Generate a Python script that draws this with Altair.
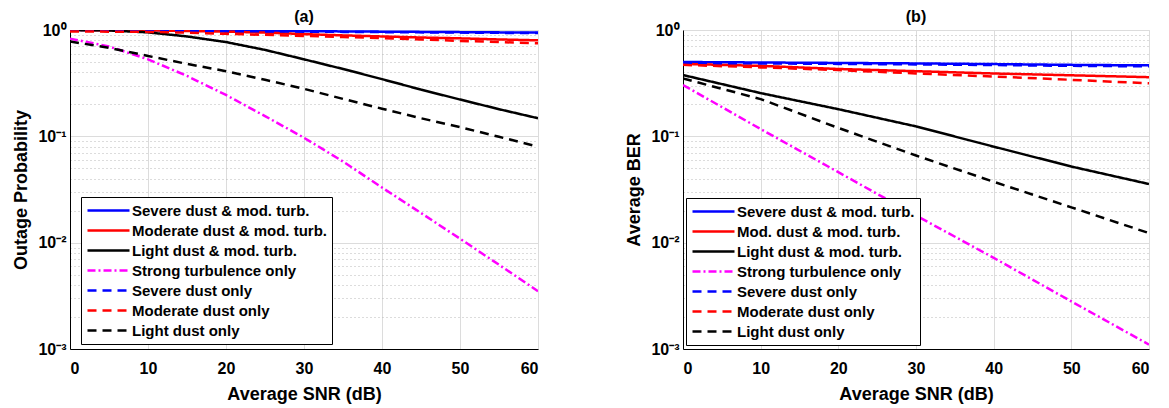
import altair as alt
import pandas as pd

# ---------------- data ----------------
snr_a = [0, 5, 10, 15, 20, 25, 30, 35, 40, 45, 50, 55, 60]
a_severe_mod = [1.0, 1.0, 0.995, 0.99, 0.985, 0.98, 0.975, 0.97, 0.965, 0.96, 0.955, 0.95, 0.945]
a_moderate_mod = [1.0, 0.995, 0.99, 0.98, 0.965, 0.945, 0.915, 0.89, 0.87, 0.85, 0.835, 0.815, 0.80]
a_light_mod = [1.0, 0.99, 0.95, 0.87, 0.77, 0.65, 0.53, 0.43, 0.345, 0.275, 0.222, 0.18, 0.148]
a_strong_turb = [0.83, 0.70, 0.53, 0.37, 0.245, 0.155, 0.097, 0.058, 0.033, 0.019, 0.0109, 0.0062, 0.0035]
a_severe_only = [0.99, 0.99, 0.985, 0.98, 0.975, 0.97, 0.965, 0.96, 0.955, 0.95, 0.945, 0.94, 0.935]
a_moderate_only = [0.97, 0.965, 0.96, 0.945, 0.92, 0.90, 0.88, 0.86, 0.84, 0.815, 0.79, 0.77, 0.75]
a_light_only = [0.78, 0.68, 0.57, 0.48, 0.41, 0.34, 0.28, 0.225, 0.182, 0.148, 0.122, 0.099, 0.08]

snr_b = [0, 10, 20, 30, 40, 50, 60]
b_severe_mod = [0.50, 0.495, 0.49, 0.485, 0.478, 0.47, 0.465]
b_moderate_mod = [0.48, 0.46, 0.43, 0.41, 0.39, 0.375, 0.36]
b_light_mod = [0.377, 0.255, 0.18, 0.124, 0.08, 0.052, 0.0356]
b_strong_turb = [0.304, 0.117, 0.046, 0.018, 0.0072, 0.0028, 0.0011]
b_severe_only = [0.49, 0.485, 0.48, 0.475, 0.468, 0.46, 0.455]
b_moderate_only = [0.47, 0.445, 0.42, 0.39, 0.365, 0.34, 0.315]
b_light_only = [0.35, 0.224, 0.12, 0.066, 0.0374, 0.0215, 0.0123]

labels_a = ["Severe dust & mod. turb.", "Moderate dust & mod. turb.", "Light dust &  mod. turb.",
            "Strong turbulence only", "Severe dust only", "Moderate dust only", "Light dust only"]
labels_b = ["Severe dust & mod. turb.", "Mod. dust & mod. turb.", "Light dust & mod. turb.",
            "Strong turbulence only", "Severe dust only", "Moderate dust only", "Light dust only"]

colors = ["#0000ff", "#ff0000", "#000000", "#ff00ff", "#0000ff", "#ff0000", "#000000"]
dashes = [[1, 0], [1, 0], [1, 0], [8, 3, 2, 3], [9, 6], [9, 6], [9, 6]]

x_ticks = [0, 10, 20, 30, 40, 50, 60]
y_ticks = [round(m * 10 ** e, 10) for e in (-3, -2, -1) for m in range(1, 10)] + [1]

FONT = "Liberation Sans"


def make_df(x, series, labels):
    rows = []
    for lab, vals in zip(labels, series):
        for xi, v in zip(x, vals):
            rows.append({"snr": xi, "val": v, "series": lab})
    return pd.DataFrame(rows)


df_a = make_df(snr_a, [a_severe_mod, a_moderate_mod, a_light_mod, a_strong_turb,
                       a_severe_only, a_moderate_only, a_light_only], labels_a)
df_b = make_df(snr_b, [b_severe_mod, b_moderate_mod, b_light_mod, b_strong_turb,
                       b_severe_only, b_moderate_only, b_light_only], labels_b)

major_test = "abs(log(datum.value)/LN10 - round(log(datum.value)/LN10)) < 0.001"
label_expr = ("!(" + major_test + ") ? '' : "
              "datum.value > 0.5 ? '10\u2070' : datum.value > 0.05 ? '10\u207b\u00b9' : "
              "datum.value > 0.005 ? '10\u207b\u00b2' : '10\u207b\u00b3'")

axis_style = dict(
    labelFont=FONT, labelFontSize=16, labelFontWeight="bold", labelColor="black",
    titleFont=FONT, titleFontSize=18, titleFontWeight="bold", titleColor="black",
    domainColor="black", tickSize=0,
)


def panel(df, labels, title, ytitle, lx, ly, w):
    leg = alt.Legend(
        title=None, orient="none", legendX=lx, legendY=ly,
        symbolType="M-3,0H3", symbolSize=196, symbolStrokeWidth=2.5,
        labelFont=FONT, labelFontSize=15, labelFontWeight="bold", labelColor="black",
        labelOffset=15, symbolOffset=14, rowPadding=3,
        strokeColor="black", fillColor="white", padding=5, cornerRadius=0,
        labelLimit=400,
    )
    return alt.Chart(df).mark_line(strokeWidth=2.5, clip=True).encode(
        x=alt.X("snr:Q", scale=alt.Scale(domain=[0, 60], nice=False),
                axis=alt.Axis(values=x_ticks, title="Average SNR (dB)", format="d",
                              gridColor="#dcdcdc", labelPadding=11, titlePadding=9, **axis_style)),
        y=alt.Y("val:Q", scale=alt.Scale(type="log", domain=[0.001, 1], nice=False),
                axis=alt.Axis(values=y_ticks, title=ytitle, labelExpr=label_expr, labelOverlap=False,
                              gridDash={"condition": {"test": major_test, "value": []}, "value": [1, 3]},
                              gridColor={"condition": {"test": major_test, "value": "#dcdcdc"}, "value": "#b8b8b8"},
                              labelPadding=4, titlePadding=7, **axis_style)),
        color=alt.Color("series:N", scale=alt.Scale(domain=labels, range=colors), legend=leg, sort=labels),
        strokeDash=alt.StrokeDash("series:N", scale=alt.Scale(domain=labels, range=dashes), legend=leg, sort=labels),
    ).properties(
        width=w, height=319,
        title=alt.TitleParams(title, font=FONT, fontSize=16, fontWeight="bold", anchor="middle", offset=-3),
    )


pa = panel(df_a, labels_a, "(a)", "Outage Probability", 11, 167, 468)
pb = panel(df_b, labels_b, "(b)", "Average BER", 3, 168, 466)

chart = alt.hconcat(pa, pb, spacing=86).resolve_scale(color="independent", strokeDash="independent").configure_axis(
    grid=True,
).configure_view(stroke="black", strokeWidth=1).configure(
    background="white", padding={"left": 4, "top": 0, "right": 0, "bottom": 0})

chart.save("out.html", embed_options={"renderer": "svg", "actions": False})
